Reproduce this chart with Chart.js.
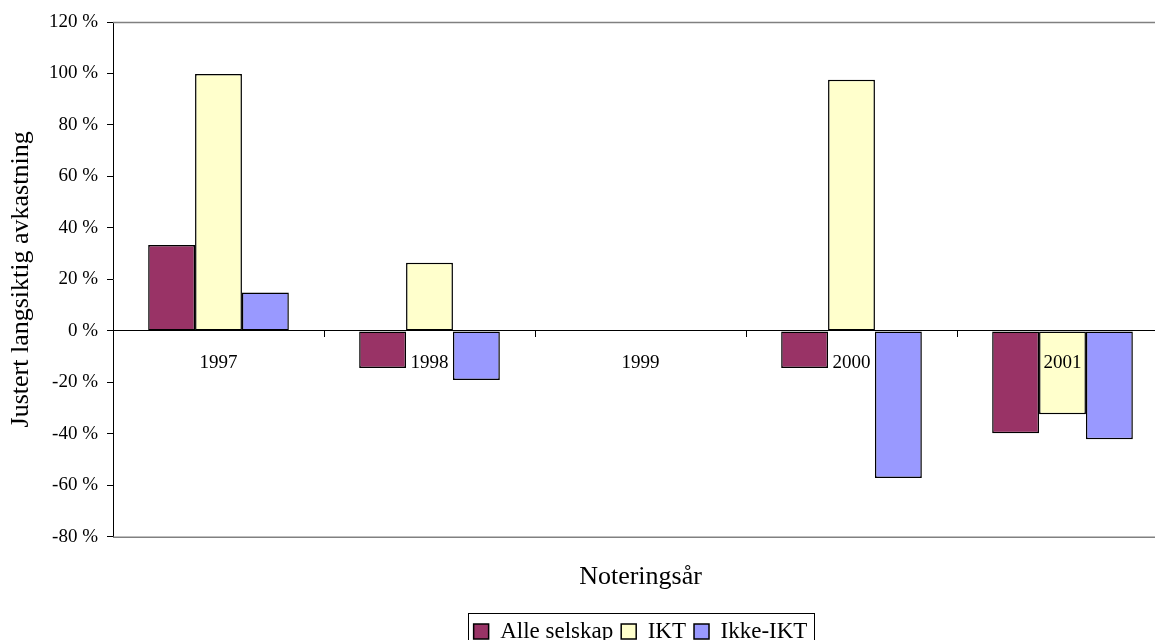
<!DOCTYPE html>
<html>
<head>
<meta charset="utf-8">
<script src="https://cdn.jsdelivr.net/npm/chart.js@4.4.1/dist/chart.umd.min.js"></script>
<style>
  html, body { margin: 0; padding: 0; background: #fff; overflow: hidden; width: 1155px; height: 640px; }
  #wrap { position: absolute; left: 0; top: 0; width: 1200px; height: 653px; }
</style>
</head>
<body>
<div id="wrap"><canvas id="c" width="1200" height="653"></canvas></div>
<script>
const categories = ['1997', '1998', '1999', '2000', '2001'];
const alleSelskap = [33.4, -14.4, null, -14.4, -39.8];
const ikt = [99.8, 26.5, null, 97.6, -32.4];
const ikkeIkt = [14.9, -19.1, null, -57.2, -42.1];
const seriesNames = ['Alle selskap', 'IKT', 'Ikke-IKT'];
const yTicks = { min: -80, max: 120, step: 20 };
const yTitle = 'Justert langsiktig avkastning';
const xTitle = 'Noteringsår';

const FONT = "'Liberation Serif', 'Times New Roman', serif";
Chart.defaults.color = '#000';
Chart.defaults.font.family = FONT;

const framePlugin = {
  id: 'frame',
  afterDraw(chart) {
    const { ctx, chartArea } = chart;
    ctx.save();
    ctx.strokeStyle = '#808080';
    ctx.lineWidth = 1.5;
    ctx.beginPath();
    ctx.moveTo(chartArea.left, chartArea.top + 0.5);
    ctx.lineTo(chartArea.right, chartArea.top + 0.5);
    ctx.moveTo(chartArea.left, chartArea.bottom + 0.5);
    ctx.lineTo(chartArea.right, chartArea.bottom + 0.5);
    ctx.stroke();
    const lg = chart.legend;
    if (lg && lg.legendHitBoxes && lg.legendHitBoxes.length) {
      const hb = lg.legendHitBoxes;
      let minX = Infinity, maxX = -Infinity, minY = Infinity, maxY = -Infinity;
      hb.forEach(b => {
        minX = Math.min(minX, b.left); maxX = Math.max(maxX, b.left + b.width);
        minY = Math.min(minY, b.top); maxY = Math.max(maxY, b.top + b.height);
      });
      ctx.strokeStyle = '#000';
      ctx.lineWidth = 1;
      ctx.strokeRect(Math.round(minX - 6) + 0.5, Math.round(minY - 7) + 0.5,
                     Math.round(maxX - minX + 12), Math.round(maxY - minY + 14));
    }
    ctx.restore();
  }
};

new Chart(document.getElementById('c'), {
  type: 'bar',
  data: {
    labels: categories,
    datasets: [
      { label: seriesNames[0], data: alleSelskap, backgroundColor: '#993366', borderColor: '#000', borderWidth: 1.5, borderSkipped: false },
      { label: seriesNames[1], data: ikt, backgroundColor: '#FFFFCC', borderColor: '#000', borderWidth: 1.5, borderSkipped: false },
      { label: seriesNames[2], data: ikkeIkt, backgroundColor: '#9999FF', borderColor: '#000', borderWidth: 1.5, borderSkipped: false }
    ]
  },
  plugins: [framePlugin],
  options: {
    responsive: false,
    devicePixelRatio: 1,
    animation: false,
    layout: { padding: { top: 22, right: 32, left: 0, bottom: 0 } },
    datasets: { bar: { categoryPercentage: 0.6667, barPercentage: 1.0 } },
    scales: {
      x: {
        type: 'category',
        position: { y: 0 },
        offset: true,
        grid: { display: true, drawOnChartArea: false, drawTicks: true, tickLength: 6, color: '#000', offset: true },
        border: { display: true, color: '#000', width: 1 },
        ticks: { font: { size: 19, family: FONT }, color: '#000', padding: 15, z: 1, maxRotation: 0, autoSkip: false }
      },
      y: {
        min: yTicks.min, max: yTicks.max,
        grid: { display: true, drawOnChartArea: false, drawTicks: true, tickLength: 6, color: '#000' },
        border: { display: true, color: '#000', width: 1 },
        ticks: {
          stepSize: yTicks.step,
          font: { size: 19, family: FONT }, color: '#000', padding: 9,
          callback: v => v + ' %'
        },
        title: { display: true, text: yTitle, font: { size: 26, family: FONT }, color: '#000', padding: { top: 6, bottom: 0 } },
        afterFit: s => { s.width = 113; }
      }
    },
    plugins: {
      legend: {
        position: 'bottom',
        fullSize: false,
        labels: { font: { size: 23, family: FONT }, color: '#000', boxWidth: 15, boxHeight: 15, padding: 8 }
      },
      title: {
        display: true, text: xTitle, position: 'bottom', fullSize: false, weight: 500,
        font: { size: 26, family: FONT, weight: 'normal' }, color: '#000',
        padding: { top: 25, bottom: 19 }
      },
      tooltip: { enabled: false }
    }
  }
});
</script>
</body>
</html>
